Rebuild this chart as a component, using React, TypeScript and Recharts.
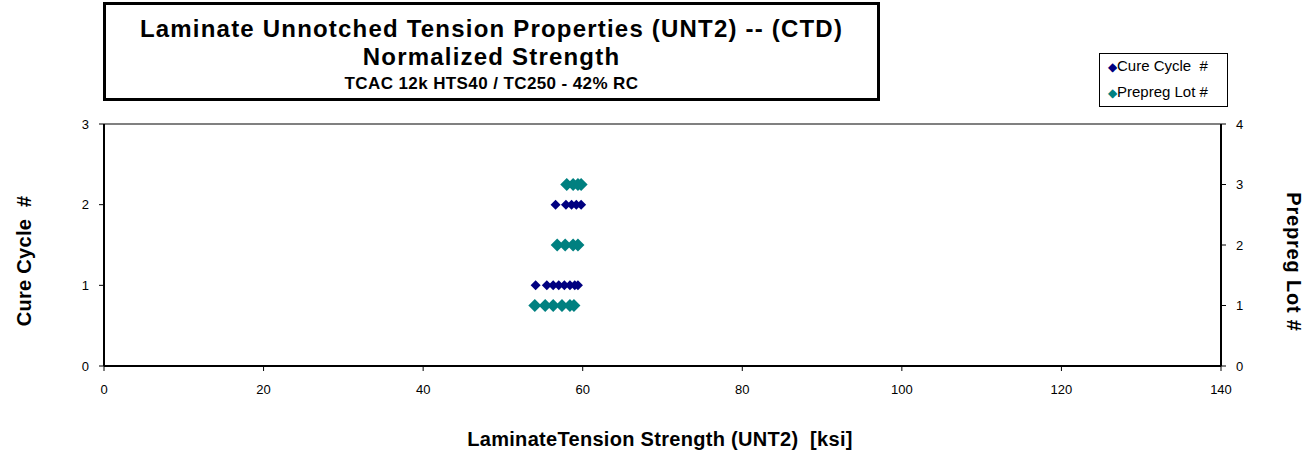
import React from "react";
import { ScatterChart, Scatter, XAxis, YAxis, ReferenceLine } from "recharts";

// Laminate tension strength [ksi] vs cure cycle / prepreg lot
const cureStrength = [54.1, 55.5, 56.3, 57.0, 57.7, 58.4, 59.0, 59.4, 56.6, 57.9, 58.6, 59.2, 59.8];
const cureCycle = [1, 1, 1, 1, 1, 1, 1, 1, 2, 2, 2, 2, 2];

const lotStrength = [54.0, 55.3, 56.3, 57.4, 58.4, 58.9, 56.8, 57.8, 58.8, 59.4, 58.0, 58.8, 59.4, 59.8];
const prepregLot = [1, 1, 1, 1, 1, 1, 2, 2, 2, 2, 3, 3, 3, 3];

const xTicks = [0, 20, 40, 60, 80, 100, 120, 140];
const leftTicks = [0, 1, 2, 3];
const rightTicks = [0, 1, 2, 3, 4];

const NAVY = "#000080";
const TEAL = "#008080";
const FONT = "'Liberation Sans', Arial, sans-serif";

const cureData = cureStrength.map((x, i) => ({ x, y: cureCycle[i] }));
const lotData = lotStrength.map((x, i) => ({ x, y: prepregLot[i] }));

// excel style square diamond
function diamond(half: number, color: string) {
    return (props: any) => {
        const { cx, cy } = props;
        return <path d={`M${cx},${cy - half}L${cx + half},${cy}L${cx},${cy + half}L${cx - half},${cy}Z`} fill={color} />;
    };
}

const tickStyle = { fill: "#000", fontSize: 13, fontFamily: FONT };
const axisLine = { stroke: "#000", strokeWidth: 2 };
const axisTitle = { fontSize: 20, fontWeight: "bold" as const, whiteSpace: "pre" as const, letterSpacing: 0.3 };

export default function App() {
    return (
        <div style={{ position: "absolute", left: 0, top: 0, width: 1308, height: 459, background: "#fff", fontFamily: FONT }}>
            <div style={{
                position: "absolute", left: 103, top: 2, width: 771, height: 93,
                border: "3px solid #000", textAlign: "center", fontWeight: "bold"
            }}>
                <div style={{ fontSize: 24, lineHeight: "28px", marginTop: 10, letterSpacing: 1.2, whiteSpace: "pre" }}>Laminate Unnotched Tension Properties (UNT2) -- (CTD)</div>
                <div style={{ fontSize: 24, lineHeight: "28px", letterSpacing: 1.2 }}>Normalized Strength</div>
                <div style={{ fontSize: 17, lineHeight: "22px", marginTop: 2, letterSpacing: 0.4 }}>TCAC 12k HTS40 / TC250 - 42% RC</div>
            </div>

            <div style={{
                position: "absolute", left: 1099, top: 53, width: 127, height: 52,
                border: "1px solid #000", fontSize: 15, lineHeight: "16px"
            }}>
                <div style={{ position: "absolute", left: 8, top: 4, whiteSpace: "pre" }}>
                    <span style={{ color: NAVY, fontSize: 12 }}>◆</span>Cure Cycle  #
                </div>
                <div style={{ position: "absolute", left: 8, top: 30, whiteSpace: "pre" }}>
                    <span style={{ color: TEAL, fontSize: 12 }}>◆</span>Prepreg Lot #
                </div>
            </div>

            <ScatterChart width={1308} height={459} margin={{ top: 124, right: 0, bottom: 0, left: 0 }}
                style={{ position: "absolute", left: 0, top: 0 }}>
                <XAxis type="number" dataKey="x" domain={[0, 140]} ticks={xTicks} interval={0}
                    height={93} tick={tickStyle} tickSize={5} tickMargin={14}
                    axisLine={axisLine} tickLine={{ stroke: "#000" }} />
                <YAxis yAxisId="left" type="number" dataKey="y" domain={[0, 3]} ticks={leftTicks} interval={0}
                    width={104} tick={tickStyle} tickSize={5} tickMargin={10}
                    axisLine={axisLine} tickLine={{ stroke: "#000" }} />
                <YAxis yAxisId="right" orientation="right" type="number" dataKey="y" domain={[0, 4]} ticks={rightTicks} interval={0}
                    width={87} tick={tickStyle} tickSize={5} tickMargin={10}
                    axisLine={axisLine} tickLine={{ stroke: "#000" }} />
                <ReferenceLine yAxisId="left" y={3} stroke="#808080" strokeWidth={2} />
                <Scatter name="Cure Cycle  #" data={cureData} yAxisId="left" shape={diamond(5, NAVY)} isAnimationActive={false} />
                <Scatter name="Prepreg Lot #" data={lotData} yAxisId="right" shape={diamond(6.5, TEAL)} isAnimationActive={false} />
            </ScatterChart>

            <div style={{ ...axisTitle, position: "absolute", left: 24, top: 261, transform: "translate(-50%, -50%) rotate(-90deg)" }}>Cure Cycle  #</div>
            <div style={{ ...axisTitle, position: "absolute", left: 1293, top: 262, transform: "translate(-50%, -50%) rotate(90deg)", letterSpacing: 0.8 }}>Prepreg Lot #</div>
            <div style={{ ...axisTitle, position: "absolute", left: 660, top: 439, transform: "translate(-50%, -50%)" }}>LaminateTension Strength (UNT2)  [ksi]</div>
        </div>
    );
}
